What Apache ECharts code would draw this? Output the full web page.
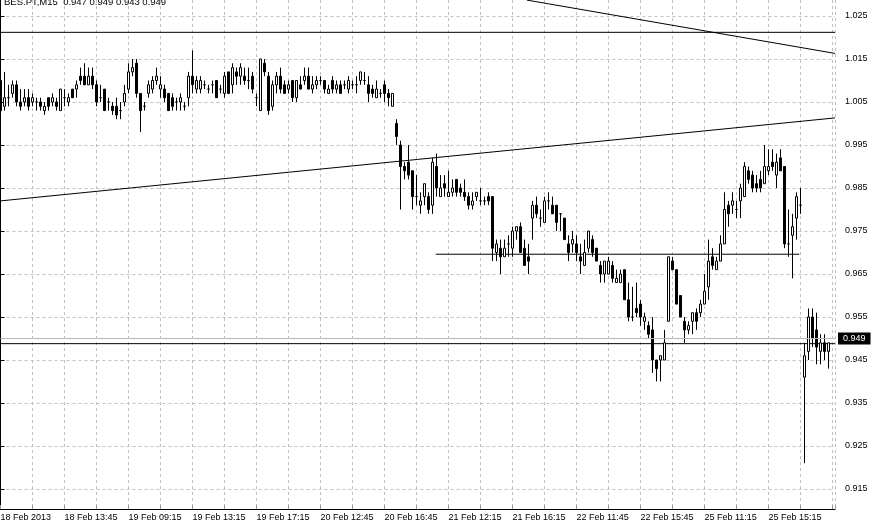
<!DOCTYPE html>
<html><head><meta charset="utf-8">
<script src="https://cdn.jsdelivr.net/npm/echarts@6/dist/echarts.min.js"></script>
<style>html,body{margin:0;padding:0;background:#fff}#c{width:878px;height:528px}</style>
</head><body><div id="c"></div>
<script>
const symbolTitle = 'BES.PT,M15';
const lastQuote = [0.947, 0.949, 0.943, 0.949];
const timeLabels = ['18 Feb 2013','18 Feb 13:45','19 Feb 09:15','19 Feb 13:15','19 Feb 17:15','20 Feb 12:45','20 Feb 16:45','21 Feb 12:15','21 Feb 16:15','22 Feb 11:45','22 Feb 15:45','25 Feb 11:15','25 Feb 15:15'];
const priceTicks = [0.915,0.925,0.935,0.945,0.955,0.965,0.975,0.985,0.995,1.005,1.015,1.025];
// [open, close, low, high]
const ohlc = [
[1.010,1.003,1.003,1.012],[1.004,1.006,1.003,1.012],[1.006,1.006,1.004,1.009],[1.007,1.009,1.006,1.010],
[1.009,1.005,1.004,1.010],[1.005,1.004,1.003,1.008],[1.005,1.006,1.004,1.008],[1.006,1.004,1.003,1.008],
[1.005,1.006,1.004,1.007],[1.005,1.005,1.003,1.006],[1.005,1.004,1.003,1.006],[1.003,1.004,1.002,1.005],
[1.006,1.004,1.003,1.006],[1.005,1.006,1.004,1.007],[1.005,1.004,1.003,1.006],[1.003,1.008,1.003,1.008],
[1.006,1.006,1.004,1.008],[1.005,1.006,1.004,1.007],[1.008,1.006,1.006,1.008],[1.008,1.009,1.006,1.010],
[1.011,1.010,1.009,1.013],[1.011,1.009,1.009,1.014],[1.009,1.011,1.009,1.013],[1.011,1.009,1.008,1.013],
[1.009,1.005,1.004,1.010],[1.006,1.006,1.005,1.009],[1.008,1.003,1.003,1.008],[1.005,1.005,1.003,1.006],
[1.004,1.003,1.002,1.005],[1.004,1.002,1.001,1.006],[1.003,1.003,1.001,1.005],[1.005,1.007,1.004,1.009],
[1.008,1.012,1.007,1.014],[1.012,1.013,1.011,1.015],[1.014,1.007,1.006,1.015],[1.007,1.003,0.998,1.007],
[1.004,1.004,1.003,1.005],[1.007,1.009,1.006,1.010],[1.008,1.010,1.007,1.011],[1.010,1.011,1.009,1.013],
[1.008,1.009,1.006,1.011],[1.008,1.006,1.005,1.009],[1.007,1.003,1.003,1.007],[1.006,1.004,1.003,1.007],
[1.005,1.005,1.003,1.006],[1.005,1.006,1.003,1.007],[1.004,1.004,1.003,1.005],[1.006,1.011,1.004,1.012],
[1.011,1.009,1.007,1.017],[1.008,1.010,1.007,1.011],[1.008,1.010,1.007,1.011],[1.009,1.009,1.008,1.010],
[1.008,1.008,1.007,1.009],[1.009,1.009,1.007,1.010],[1.010,1.006,1.006,1.010],[1.008,1.008,1.007,1.009],
[1.007,1.011,1.006,1.012],[1.012,1.007,1.007,1.012],[1.009,1.013,1.007,1.014],[1.012,1.011,1.009,1.013],
[1.011,1.013,1.009,1.014],[1.011,1.010,1.009,1.013],[1.010,1.010,1.008,1.013],[1.011,1.008,1.007,1.012],
[1.006,1.006,1.004,1.007],[1.003,1.015,1.003,1.015],[1.014,1.012,1.011,1.015],[1.011,1.003,1.002,1.012],
[1.004,1.009,1.003,1.010],[1.009,1.011,1.007,1.012],[1.011,1.008,1.007,1.013],[1.009,1.007,1.007,1.010],
[1.008,1.009,1.007,1.010],[1.010,1.006,1.005,1.010],[1.006,1.010,1.005,1.010],[1.009,1.008,1.008,1.011],
[1.010,1.011,1.009,1.013],[1.011,1.008,1.008,1.013],[1.008,1.009,1.007,1.011],[1.009,1.010,1.008,1.011],
[1.010,1.010,1.009,1.011],[1.010,1.008,1.007,1.010],[1.007,1.008,1.007,1.009],[1.010,1.008,1.007,1.011],
[1.008,1.009,1.007,1.010],[1.009,1.007,1.007,1.010],[1.009,1.009,1.008,1.010],[1.008,1.010,1.007,1.011],
[1.009,1.009,1.008,1.010],[1.009,1.009,1.007,1.011],[1.010,1.012,1.009,1.012],[1.010,1.010,1.009,1.012],
[1.009,1.007,1.005,1.011],[1.008,1.007,1.006,1.009],[1.006,1.008,1.006,1.010],[1.007,1.007,1.006,1.008],
[1.009,1.007,1.005,1.010],[1.007,1.006,1.004,1.008],[1.004,1.007,1.004,1.007],[1.000,0.997,0.995,1.001],
[0.995,0.990,0.980,0.996],[0.990,0.989,0.987,0.991],[0.991,0.988,0.987,0.995],[0.989,0.983,0.980,0.989],
[0.983,0.983,0.981,0.988],[0.981,0.982,0.979,0.984],[0.983,0.986,0.981,0.986],[0.983,0.980,0.979,0.984],
[0.981,0.991,0.979,0.992],[0.990,0.985,0.983,0.993],[0.983,0.985,0.983,0.988],[0.986,0.985,0.983,0.988],
[0.983,0.984,0.983,0.989],[0.984,0.985,0.983,0.987],[0.987,0.984,0.983,0.987],[0.985,0.984,0.983,0.986],
[0.984,0.983,0.982,0.987],[0.983,0.981,0.980,0.984],[0.981,0.982,0.980,0.984],[0.983,0.984,0.982,0.984],
[0.982,0.982,0.981,0.985],[0.982,0.982,0.981,0.983],[0.983,0.982,0.981,0.984],[0.983,0.971,0.968,0.983],
[0.970,0.972,0.968,0.973],[0.971,0.969,0.965,0.973],[0.969,0.971,0.969,0.973],[0.972,0.972,0.969,0.974],
[0.971,0.975,0.969,0.976],[0.975,0.976,0.973,0.976],[0.976,0.970,0.970,0.977],[0.971,0.967,0.967,0.973],
[0.969,0.968,0.965,0.972],[0.978,0.981,0.973,0.982],[0.981,0.979,0.978,0.983],[0.978,0.978,0.976,0.980],
[0.977,0.982,0.977,0.983],[0.982,0.982,0.980,0.984],[0.981,0.979,0.979,0.983],[0.981,0.977,0.975,0.981],
[0.979,0.979,0.975,0.979],[0.978,0.973,0.973,0.978],[0.972,0.970,0.968,0.974],[0.972,0.973,0.970,0.975],
[0.972,0.970,0.968,0.974],[0.969,0.968,0.965,0.972],[0.967,0.970,0.967,0.973],[0.971,0.975,0.970,0.975],
[0.973,0.970,0.969,0.974],[0.971,0.968,0.968,0.971],[0.967,0.965,0.963,0.968],[0.965,0.968,0.963,0.968],
[0.965,0.968,0.965,0.969],[0.967,0.964,0.963,0.968],[0.963,0.964,0.963,0.966],[0.963,0.965,0.963,0.966],
[0.966,0.959,0.959,0.966],[0.959,0.955,0.954,0.963],[0.955,0.955,0.954,0.962],[0.957,0.956,0.955,0.963],
[0.958,0.955,0.953,0.959],[0.954,0.955,0.952,0.956],[0.953,0.951,0.950,0.954],[0.952,0.945,0.942,0.955],
[0.945,0.943,0.940,0.945],[0.945,0.946,0.940,0.946],[0.945,0.949,0.945,0.952],[0.954,0.969,0.954,0.969],
[0.968,0.966,0.966,0.969],[0.966,0.958,0.958,0.966],[0.960,0.955,0.955,0.960],[0.954,0.952,0.949,0.955],
[0.952,0.953,0.951,0.954],[0.954,0.956,0.951,0.956],[0.956,0.954,0.952,0.957],[0.956,0.958,0.955,0.959],
[0.958,0.961,0.958,0.965],[0.962,0.968,0.959,0.973],[0.969,0.967,0.966,0.971],[0.966,0.968,0.966,0.969],
[0.968,0.972,0.968,0.974],[0.972,0.980,0.972,0.984],[0.981,0.979,0.976,0.982],[0.981,0.982,0.979,0.984],
[0.980,0.980,0.978,0.982],[0.982,0.985,0.978,0.986],[0.983,0.990,0.983,0.991],[0.989,0.987,0.986,0.990],
[0.988,0.985,0.984,0.989],[0.986,0.985,0.984,0.988],[0.987,0.985,0.984,0.989],[0.986,0.990,0.986,0.995],
[0.989,0.990,0.988,0.994],[0.991,0.990,0.989,0.994],[0.988,0.991,0.985,0.993],[0.992,0.989,0.989,0.994],
[0.990,0.972,0.971,0.990],[0.972,0.972,0.969,0.980],[0.974,0.976,0.964,0.979],[0.978,0.983,0.973,0.984],
[0.981,0.981,0.979,0.985],[0.941,0.946,0.921,0.949],[0.947,0.955,0.945,0.957],[0.955,0.950,0.948,0.957],
[0.952,0.948,0.944,0.956],[0.947,0.949,0.944,0.951],[0.949,0.947,0.945,0.951],[0.947,0.949,0.943,0.949]
];
// user-drawn lines: [barIndex, price]
const topHorizontal = [[0, 1.0212], [208.625, 1.0212]];
const lowHorizontal = [[0, 0.9488], [208.625, 0.9488]];
const supportSegment = [[108.8, 0.9696], [199.7, 0.9696]];
const risingTrend = [[0, 0.9820], [208.625, 1.0013]];
const fallingTrend = [[131.6, 1.0287], [208.625, 1.0163]];
const bidPrice = 0.949;

const FONT = 'Liberation Sans';
const chart = echarts.init(document.getElementById('c'), null, {renderer: 'canvas'});
function lineSeries(pts) {
  return {type: 'line', data: pts, symbol: 'none', silent: true, clip: true,
    lineStyle: {color: '#000', width: 1}, z: 3, animation: false};
}
chart.setOption({
  animation: false,
  backgroundColor: '#fff',
  grid: {left: 0.5, right: 43, top: 0, bottom: 19, containLabel: false, outerBoundsMode: 'none'},
  graphic: [{type: 'text', left: 4, top: -3, z: 10,
    style: {text: symbolTitle + '  ' + lastQuote.map(v => v.toFixed(3)).join(' '), fontSize: 9.5, fontFamily: FONT, fill: '#000'}}],
  xAxis: {
    type: 'value', min: 0, max: 208.625, interval: 8,
    axisLine: {show: true, onZero: false, lineStyle: {color: '#000', width: 1}},
    axisTick: {show: true, inside: true, length: 4, lineStyle: {color: '#999'}},
    axisLabel: {formatter: v => (v % 16 === 0 && timeLabels[v / 16]) || '', align: 'left', fontSize: 9, fontFamily: FONT, color: '#000', margin: 4},
    splitLine: {show: true, lineStyle: {color: '#c0c0c0', type: [3, 3], width: 1}}
  },
  yAxis: {
    type: 'value', position: 'right', min: 0.91035, max: 1.02872, scale: true,
    axisLine: {show: true, lineStyle: {color: '#000', width: 1}},
    axisTick: {show: true, length: 4, customValues: priceTicks, lineStyle: {color: '#000'}},
    axisLabel: {customValues: priceTicks, formatter: v => v.toFixed(3), fontSize: 9, fontFamily: FONT, color: '#000', margin: 10},
    splitLine: {show: true, lineStyle: {color: '#c0c0c0', type: [3, 3], width: 1}}
  },
  series: [
    {
      type: 'candlestick', data: ohlc.map((d, i) => [i, d[0], d[1], d[2], d[3]]),
      encode: {x: 0, y: [1, 2, 3, 4]},
      barWidth: 3, silent: true, z: 4,
      itemStyle: {color: '#fff', color0: '#000', borderColor: '#000', borderColor0: '#000', borderWidth: 1},
      markLine: {
        symbol: 'none', silent: true, animation: false,
        data: [{yAxis: bidPrice}],
        lineStyle: {color: '#b8b8b8', type: 'solid', width: 1},
        label: {position: 'end', formatter: bidPrice.toFixed(3), backgroundColor: '#000', color: '#fff', padding: [2, 5, 1, 5], fontSize: 9, fontFamily: FONT, distance: 3}
      }
    },
    lineSeries(topHorizontal),
    lineSeries(lowHorizontal),
    lineSeries(supportSegment),
    lineSeries(risingTrend),
    lineSeries(fallingTrend)
  ]
});
</script></body></html>
